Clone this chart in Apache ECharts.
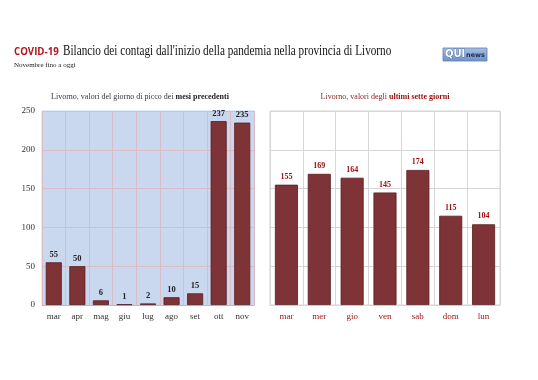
<!DOCTYPE html>
<html><head><meta charset="utf-8">
<script src="https://cdn.jsdelivr.net/npm/echarts@6/dist/echarts.min.js"></script>
<style>html,body{margin:0;padding:0;background:#fff}#c{width:538px;height:380px}</style>
</head><body><div id="c"></div>
<script>
const monthCats = ['mar','apr','mag','giu','lug','ago','set','ott','nov'];
const monthVals = [55,50,6,1,2,10,15,237,235];
const dayCats = ['mar','mer','gio','ven','sab','dom','lun'];
const dayVals = [155,169,164,145,174,115,104];
const yTicks = [0,50,100,150,200,250];

const serif = '"Liberation Serif", "DejaVu Serif", serif';
const barColor = '#7e3436';
const chart = echarts.init(document.getElementById('c'));
chart.setOption({
  animation:false,
  backgroundColor:'#fff',
  title:[
    {text:'Novembre fino a oggi', left:14, top:62, padding:0, textStyle:{fontFamily:serif,fontSize:7,fontWeight:'normal',color:'#222'}},
    {text:'Livorno, valori del giorno di picco dei {b|mesi precedenti}', left:140, textAlign:'center', top:93, padding:0,
     textStyle:{fontFamily:serif,fontSize:8,fontWeight:'normal',color:'#333',rich:{b:{fontFamily:serif,fontSize:8,fontWeight:'bold',color:'#222'}}}},
    {text:'Livorno, valori degli {b|ultimi sette giorni}', left:385, textAlign:'center', top:93, padding:0,
     textStyle:{fontFamily:serif,fontSize:8,fontWeight:'normal',color:'#8b1a1a',rich:{b:{fontFamily:serif,fontSize:8,fontWeight:'bold',color:'#a01010'}}}}
  ],
  graphic:[
    {type:'text', x:14, y:51.5, scaleX:0.88,
     style:{text:'COVID-19', font:'bold 11px "Open Sans"', fill:'#b0151c', verticalAlign:'middle'}},
    {type:'text', x:63, y:51, scaleX:0.8,
     style:{text:'Bilancio dei contagi dall\'inizio della pandemia nella provincia di Livorno', font:'14px "Liberation Serif"', fill:'#111', verticalAlign:'middle'}},
    {type:'rect', shape:{x:443,y:48,width:44,height:13},
     style:{fill:new echarts.graphic.LinearGradient(0,0,0,1,[{offset:0,color:'#a9c0e4'},{offset:1,color:'#6f90c4'}]),stroke:'#5b7fb5',lineWidth:0.8}},
    {type:'text', x:445, y:54.5, style:{text:'QUI',font:'bold 10px "DejaVu Sans"',fill:'#fff',stroke:'#2a4a85',lineWidth:0.6,verticalAlign:'middle'}},
    {type:'text', x:466, y:55.5, style:{text:'news',font:'bold 6.5px "DejaVu Sans"',fill:'#1a2a55',verticalAlign:'middle'}}
  ],
  grid:[
    {left:42, right:284, top:111, bottom:75, show:true, backgroundColor:'#c9d7ef', borderColor:'#c9d7ef'},
    {left:270, right:38, top:111, bottom:75, show:true, backgroundColor:'#fff', borderColor:'#d6d6d6'}
  ],
  xAxis:[
    {type:'category', gridIndex:0, data:monthCats,
     axisLine:{show:true,lineStyle:{color:'#c9b2bb'}}, axisTick:{show:false},
     splitLine:{show:true,lineStyle:{color:'#d8bcc6',width:1}},
     axisLabel:{fontFamily:serif,fontSize:9,color:'#333',margin:7}},
    {type:'category', gridIndex:1, data:dayCats,
     axisLine:{show:true,lineStyle:{color:'#d6d6d6'}}, axisTick:{show:false},
     splitLine:{show:true,lineStyle:{color:'#d6d6d6',width:1}},
     axisLabel:{fontFamily:serif,fontSize:9,color:'#9a1010',margin:7}}
  ],
  yAxis:[
    {type:'value', gridIndex:0, min:yTicks[0], max:yTicks[yTicks.length-1], interval:50,
     axisLine:{show:false}, axisTick:{show:false},
     splitLine:{lineStyle:{color:'#d8bcc6'}},
     axisLabel:{fontFamily:serif,fontSize:9,color:'#333',margin:7}},
    {type:'value', gridIndex:1, min:yTicks[0], max:yTicks[yTicks.length-1], interval:50,
     axisLine:{show:false}, axisTick:{show:false},
     splitLine:{lineStyle:{color:'#d6d6d6'}},
     axisLabel:{show:false}}
  ],
  series:[
    {type:'bar', xAxisIndex:0, yAxisIndex:0, data:monthVals, barWidth:'68%',
     itemStyle:{color:barColor,borderColor:'#5a1a1c',borderWidth:0.8},
     label:{show:true,position:'top',distance:3,fontFamily:serif,fontSize:8.5,fontWeight:'bold',color:'#222'}},
    {type:'bar', xAxisIndex:1, yAxisIndex:1, data:dayVals, barWidth:'70%',
     itemStyle:{color:barColor,borderColor:'#5a1a1c',borderWidth:0.8},
     label:{show:true,position:'top',distance:4,fontFamily:serif,fontSize:8,fontWeight:'bold',color:'#a01010'}}
  ]
});
</script></body></html>
